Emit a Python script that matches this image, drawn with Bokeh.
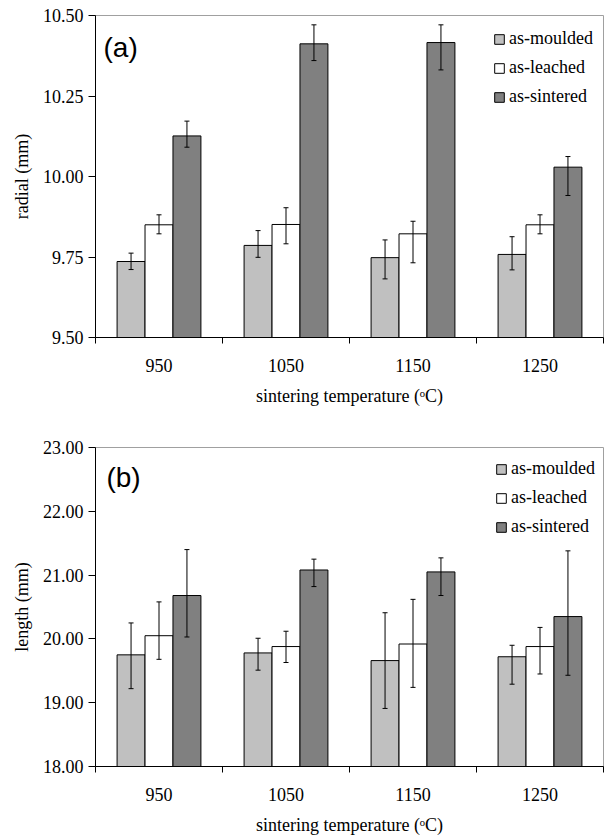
from bokeh.plotting import figure
from bokeh.models import (Range1d, FixedTicker, NumeralTickFormatter, ColumnDataSource,
                          Whisker, TeeHead, Label, Legend)
from bokeh.layouts import column
from bokeh.embed import file_html
from bokeh.resources import INLINE

# ---------------- data ----------------
temps = ["950", "1050", "1150", "1250"]
series = ["as-moulded", "as-leached", "as-sintered"]
colors = ["#c0c0c0", "#ffffff", "#808080"]

# (a) radial (mm)
radial_moulded = [9.736, 9.786, 9.748, 9.758]
radial_moulded_lo = [9.711, 9.749, 9.682, 9.710]
radial_moulded_hi = [9.762, 9.832, 9.803, 9.813]
radial_leached = [9.850, 9.851, 9.822, 9.850]
radial_leached_lo = [9.822, 9.791, 9.732, 9.822]
radial_leached_hi = [9.881, 9.903, 9.861, 9.881]
radial_sintered = [10.126, 10.412, 10.416, 10.029]
radial_sintered_lo = [10.091, 10.360, 10.331, 9.941]
radial_sintered_hi = [10.172, 10.471, 10.471, 10.062]
radial_ticks = [9.50, 9.75, 10.00, 10.25, 10.50]

# (b) length (mm)
length_moulded = [19.75, 19.78, 19.66, 19.72]
length_moulded_lo = [19.22, 19.51, 18.91, 19.29]
length_moulded_hi = [20.25, 20.01, 20.41, 19.90]
length_leached = [20.05, 19.88, 19.92, 19.88]
length_leached_lo = [19.68, 19.63, 19.24, 19.45]
length_leached_hi = [20.58, 20.12, 20.62, 20.18]
length_sintered = [20.68, 21.08, 21.05, 20.35]
length_sintered_lo = [20.03, 20.82, 20.68, 19.43]
length_sintered_hi = [21.40, 21.25, 21.27, 21.38]
length_ticks = [18.00, 19.00, 20.00, 21.00, 22.00, 23.00]

SERIF = "Liberation Serif"
SANS = "Liberation Sans"
FS = "18px"


def make_panel(vals, los, his, ticks, ylabel, tag, tag_x, tag_y, height, border_top,
               border_bottom, border_left, legend_x):
    y0, y1 = ticks[0], ticks[-1]
    n = len(temps)
    width = 605
    p = figure(width=width, height=height, output_backend="svg", toolbar_location=None,
               x_range=Range1d(0, n), y_range=Range1d(y0, y1),
               min_border_left=border_left, min_border_right=2,
               min_border_top=border_top, min_border_bottom=border_bottom)
    p.xgrid.visible = False
    p.ygrid.visible = False
    p.outline_line_color = "#a0a0a0"
    p.outline_line_width = 1
    p.background_fill_color = "white"
    p.border_fill_color = "white"

    bw = 0.22
    offsets = [-bw, 0.0, bw]
    renderers = []
    for k in range(3):
        xs = [i + 0.5 + offsets[k] for i in range(n)]
        src = ColumnDataSource(dict(x=xs, top=vals[k], lower=los[k], upper=his[k]))
        r = p.vbar(x="x", top="top", bottom=y0, width=bw, source=src,
                   fill_color=colors[k], line_color="black", line_width=1)
        renderers.append(r)
        w = Whisker(base="x", lower="lower", upper="upper", source=src,
                    dimension="height", line_color="black", line_width=1,
                    upper_head=TeeHead(size=5, line_color="black", line_width=1),
                    lower_head=TeeHead(size=5, line_color="black", line_width=1))
        w.level = "overlay"
        p.add_layout(w)

    # x axis: category labels at centers, tick marks at boundaries
    xa = p.xaxis[0]
    xa.ticker = FixedTicker(ticks=[i + 0.5 for i in range(n)],
                            minor_ticks=[float(i) for i in range(n + 1)])
    xa.major_label_overrides = {i + 0.5: temps[i] for i in range(n)}
    xa.major_tick_out = 0
    xa.major_tick_in = 0
    xa.minor_tick_out = 6
    xa.minor_tick_in = 0
    xa.axis_line_color = "black"
    xa.minor_tick_line_color = "black"
    xa.major_label_text_font = SERIF
    xa.major_label_text_font_size = FS
    xa.major_label_text_color = "black"
    xa.major_label_standoff = 15
    xa.axis_label = "sintering temperature (\u1d52C)"
    xa.axis_label_text_font = SERIF
    xa.axis_label_text_font_size = FS
    xa.axis_label_text_font_style = "normal"
    xa.axis_label_text_color = "black"
    xa.axis_label_standoff = 11

    ya = p.yaxis[0]
    ya.ticker = FixedTicker(ticks=ticks, minor_ticks=[])
    ya.formatter = NumeralTickFormatter(format="0.00")
    ya.major_tick_out = 7
    ya.major_tick_in = 0
    ya.axis_line_color = "black"
    ya.major_tick_line_color = "black"
    ya.major_label_text_font = SERIF
    ya.major_label_text_font_size = FS
    ya.major_label_text_color = "black"
    ya.major_label_standoff = 5
    ya.axis_label = ylabel
    ya.axis_label_text_font = SERIF
    ya.axis_label_text_font_size = FS
    ya.axis_label_text_font_style = "normal"
    ya.axis_label_text_color = "black"
    ya.axis_label_standoff = 8

    frame_h = height - border_top - border_bottom
    row_h, gap = 21, 8
    legend_h = 3 * row_h + 2 * gap
    legend = Legend(items=[(series[k], [renderers[k]]) for k in range(3)],
                    location=(legend_x, frame_h - 13 - legend_h),
                    border_line_color=None,
                    background_fill_alpha=0, label_text_font=SERIF,
                    label_text_font_size=FS, label_text_color="black",
                    glyph_width=12, glyph_height=12, label_standoff=4,
                    label_height=row_h, spacing=gap, padding=0, margin=0)
    p.add_layout(legend)

    p.add_layout(Label(x=tag_x, y=tag_y, text=tag, text_font=SANS,
                       text_font_size="28px", text_baseline="middle",
                       text_color="black"))
    return p


p1 = make_panel([radial_moulded, radial_leached, radial_sintered],
                [radial_moulded_lo, radial_leached_lo, radial_sintered_lo],
                [radial_moulded_hi, radial_leached_hi, radial_sintered_hi],
                radial_ticks, "radial (mm)", "(a)", 0.063, 10.402,
                height=418, border_top=15, border_bottom=81, border_left=95,
                legend_x=398)
p2 = make_panel([length_moulded, length_leached, length_sintered],
                [length_moulded_lo, length_leached_lo, length_sintered_lo],
                [length_moulded_hi, length_leached_hi, length_sintered_hi],
                length_ticks, "length (mm)", "(b)", 0.086, 22.53,
                height=419, border_top=29, border_bottom=69, border_left=93,
                legend_x=400)

layout = column(p1, p2, spacing=0)
open("out.html", "w").write(file_html(layout, INLINE))
